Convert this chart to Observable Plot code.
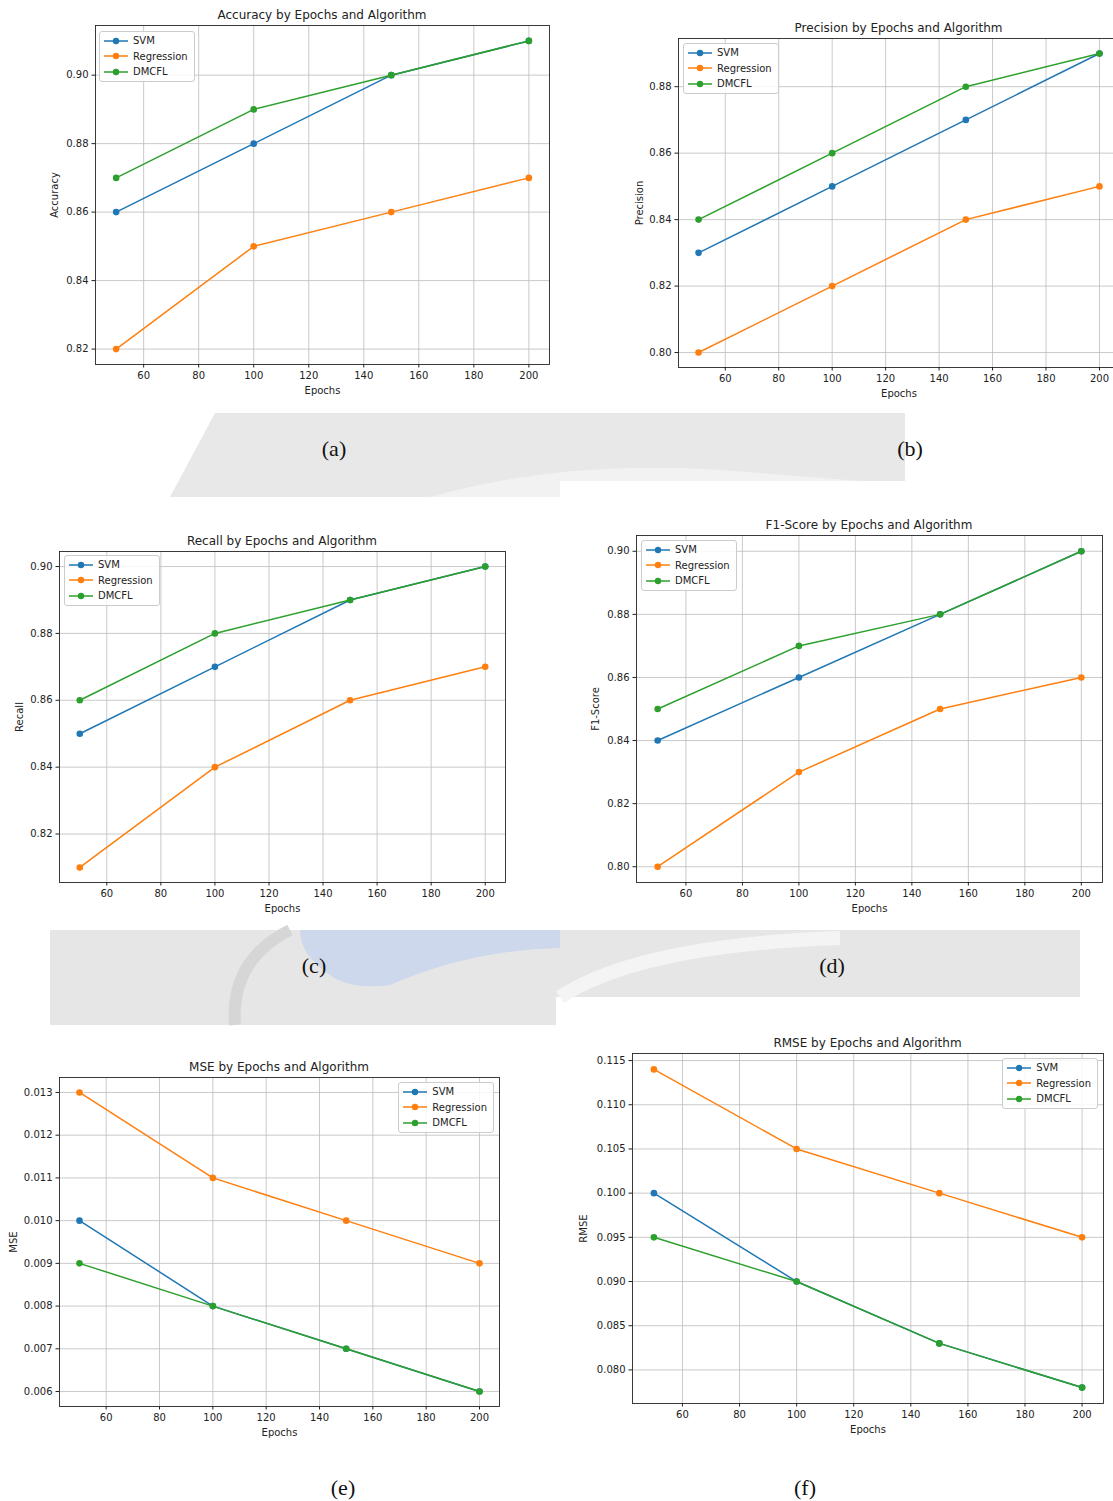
<!DOCTYPE html>
<html>
<head>
<meta charset="utf-8">
<script src="https://cdn.jsdelivr.net/npm/d3@7"></script>
<script src="https://cdn.jsdelivr.net/npm/@observablehq/plot@0.6"></script>
<style>
  html, body { margin: 0; padding: 0; background: #ffffff; }
  body { width: 1113px; height: 1501px; position: relative; overflow: hidden; font-family: "DejaVu Sans", sans-serif; color: #222; }
  #wm { position: absolute; left: 0; top: 0; }
  .chart { position: absolute; }
  .chart svg { overflow: visible; max-width: none !important; display: block; }
  .title { position: absolute; font-size: 12px; line-height: 14px; height: 14px; text-align: center; white-space: nowrap; color: #222; }
  .legend { position: absolute; border: 0.8px solid #cccccc; border-radius: 3px; background: rgba(255,255,255,0.85); font-size: 10px; padding: 1px 6px 1px 0; color: #222; }
  .legend .row { display: flex; align-items: center; height: 15.5px; }
  .legend svg { margin-left: 4px; margin-right: 5px; }
  .sub { position: absolute; font-family: "Liberation Serif", "Times New Roman", serif; font-size: 22px; line-height: 24px; transform: translate(-50%, -50%); color: #111; }
</style>
</head>
<body>
<svg id="wm" width="1113" height="1501">
  <polygon points="215,413 905,413 905,481 560,481 560,497 170,497" fill="#e8e8e8"/>
  <path d="M 430 497 Q 560 460 720 470 Q 800 476 860 481 L 560 481 L 560 497 Z" fill="#f2f2f2"/>
  <rect x="50" y="930" width="1030" height="67" fill="#e6e6e6"/>
  <rect x="50" y="997" width="506" height="28" fill="#e6e6e6"/>
  <path d="M 300 930 L 560 930 L 560 948 Q 470 950 390 985 Q 350 990 330 975 Q 300 955 300 930 Z" fill="#cdd8ec"/>
  <path d="M 560 997 Q 640 945 840 938" stroke="#f4f4f4" stroke-width="14" fill="none"/>
  <path d="M 235 1025 Q 230 960 290 930" stroke="#d6d6d6" stroke-width="12" fill="none"/>
</svg>
<script>
// ---------------- data ----------------
const epochs = [50, 100, 150, 200];
const algorithms = ["SVM", "Regression", "DMCFL"];
const colors = ["#1f77b4", "#ff7f0e", "#2ca02c"];
const xTicks = [60, 80, 100, 120, 140, 160, 180, 200];

const accuracySVM = [0.86, 0.88, 0.90, 0.91];
const accuracyRegression = [0.82, 0.85, 0.86, 0.87];
const accuracyDMCFL = [0.87, 0.89, 0.90, 0.91];
const accuracyTicks = [0.82, 0.84, 0.86, 0.88, 0.90];

const precisionSVM = [0.83, 0.85, 0.87, 0.89];
const precisionRegression = [0.80, 0.82, 0.84, 0.85];
const precisionDMCFL = [0.84, 0.86, 0.88, 0.89];
const precisionTicks = [0.80, 0.82, 0.84, 0.86, 0.88];

const recallSVM = [0.85, 0.87, 0.89, 0.90];
const recallRegression = [0.81, 0.84, 0.86, 0.87];
const recallDMCFL = [0.86, 0.88, 0.89, 0.90];
const recallTicks = [0.82, 0.84, 0.86, 0.88, 0.90];

const f1SVM = [0.84, 0.86, 0.88, 0.90];
const f1Regression = [0.80, 0.83, 0.85, 0.86];
const f1DMCFL = [0.85, 0.87, 0.88, 0.90];
const f1Ticks = [0.80, 0.82, 0.84, 0.86, 0.88, 0.90];

const mseSVM = [0.010, 0.008, 0.007, 0.006];
const mseRegression = [0.013, 0.011, 0.010, 0.009];
const mseDMCFL = [0.009, 0.008, 0.007, 0.006];
const mseTicks = [0.006, 0.007, 0.008, 0.009, 0.010, 0.011, 0.012, 0.013];

const rmseSVM = [0.100, 0.090, 0.083, 0.078];
const rmseRegression = [0.114, 0.105, 0.100, 0.095];
const rmseDMCFL = [0.095, 0.090, 0.083, 0.078];
const rmseTicks = [0.080, 0.085, 0.090, 0.095, 0.100, 0.105, 0.110, 0.115];

// ---------------- layout ----------------
const charts = [
  {title: "Accuracy by Epochs and Algorithm", ylabel: "Accuracy", series: [accuracySVM, accuracyRegression, accuracyDMCFL], yTicks: accuracyTicks, fmt: ".2f",
   frame: [95, 25, 454, 339], yOff: 45, legend: {left: 99, top: 31}, sub: "(a)", subPos: [334, 449]},
  {title: "Precision by Epochs and Algorithm", ylabel: "Precision", series: [precisionSVM, precisionRegression, precisionDMCFL], yTicks: precisionTicks, fmt: ".2f",
   frame: [678, 38, 441, 329], yOff: 43, legend: {left: 683, top: 43}, sub: "(b)", subPos: [910, 449]},
  {title: "Recall by Epochs and Algorithm", ylabel: "Recall", series: [recallSVM, recallRegression, recallDMCFL], yTicks: recallTicks, fmt: ".2f",
   frame: [59, 551, 446, 331], yOff: 44, legend: {left: 64, top: 555}, sub: "(c)", subPos: [314, 966]},
  {title: "F1-Score by Epochs and Algorithm", ylabel: "F1-Score", series: [f1SVM, f1Regression, f1DMCFL], yTicks: f1Ticks, fmt: ".2f",
   frame: [636, 535, 466, 347], yOff: 45, legend: {left: 641, top: 540}, sub: "(d)", subPos: [832, 966]},
  {title: "MSE by Epochs and Algorithm", ylabel: "MSE", series: [mseSVM, mseRegression, mseDMCFL], yTicks: mseTicks, fmt: ".3f",
   frame: [59, 1077, 440, 329], yOff: 50, legend: {right: 619, top: 1082}, sub: "(e)", subPos: [343, 1488]},
  {title: "RMSE by Epochs and Algorithm", ylabel: "RMSE", series: [rmseSVM, rmseRegression, rmseDMCFL], yTicks: rmseTicks, fmt: ".3f",
   frame: [632, 1053, 471, 350], yOff: 53, legend: {right: 15, top: 1058}, sub: "(f)", subPos: [805, 1488]}
];

const ML = 60, MR = 10, MT = 10, MB = 40;

function padded(ext) {
  const d = (ext[1] - ext[0]) * 0.05;
  return [ext[0] - d, ext[1] + d];
}

function swatch(color) {
  return `<svg width="24" height="8"><line x1="0" x2="24" y1="4" y2="4" stroke="${color}" stroke-width="1.5"/><circle cx="12" cy="4" r="3.2" fill="${color}"/></svg>`;
}

charts.forEach(cfg => {
  const [fl, ft, fw, fh] = cfg.frame;
  const allValues = cfg.series.flat();
  const gridStyle = {stroke: "#bdbdbd", strokeOpacity: 1, strokeWidth: 0.8};
  const marks = [
    Plot.gridX(xTicks, gridStyle),
    Plot.gridY(cfg.yTicks, gridStyle)
  ];
  cfg.series.forEach((vals, i) => {
    const rows = epochs.map((e, j) => ({epoch: e, value: vals[j], algorithm: algorithms[i]}));
    marks.push(Plot.line(rows, {x: "epoch", y: "value", stroke: colors[i], strokeWidth: 1.5}));
    marks.push(Plot.dot(rows, {x: "epoch", y: "value", fill: colors[i], stroke: "none", r: 3.3}));
  });
  marks.push(Plot.frame({stroke: "#262626", strokeWidth: 0.9}));
  marks.push(Plot.axisX(xTicks, {tickSize: 3.5, tickPadding: 3.5, label: "Epochs", labelAnchor: "center", labelArrow: "none", labelOffset: 29}));
  marks.push(Plot.axisY(cfg.yTicks, {tickSize: 3.5, tickPadding: 3.5, tickFormat: d3.format(cfg.fmt), label: cfg.ylabel, labelAnchor: "center", labelArrow: "none", labelOffset: cfg.yOff}));

  const W = ML + fw + MR, H = MT + fh + MB;
  const plot = Plot.plot({
    width: W,
    height: H,
    marginLeft: ML, marginRight: MR, marginTop: MT, marginBottom: MB,
    style: {fontFamily: "DejaVu Sans", fontSize: "10px", color: "#222", background: "transparent", overflow: "visible", maxWidth: "none"},
    x: {domain: padded(d3.extent(epochs))},
    y: {domain: padded(d3.extent(allValues))},
    marks
  });
  const holder = document.createElement("div");
  holder.className = "chart";
  holder.style.left = (fl - ML) + "px";
  holder.style.top = (ft - MT) + "px";
  holder.style.width = W + "px";
  holder.style.height = H + "px";
  holder.appendChild(plot);
  document.body.appendChild(holder);

  const t = document.createElement("div");
  t.className = "title";
  t.textContent = cfg.title;
  t.style.left = fl + "px";
  t.style.width = fw + "px";
  t.style.top = (ft - 17.5) + "px";
  document.body.appendChild(t);

  const lg = document.createElement("div");
  lg.className = "legend";
  lg.style.top = cfg.legend.top + "px";
  if (cfg.legend.left !== undefined) lg.style.left = cfg.legend.left + "px";
  else lg.style.right = cfg.legend.right + "px";
  lg.innerHTML = algorithms.map((a, i) => `<div class="row">${swatch(colors[i])}<span>${a}</span></div>`).join("");
  document.body.appendChild(lg);

  const s = document.createElement("div");
  s.className = "sub";
  s.textContent = cfg.sub;
  s.style.left = cfg.subPos[0] + "px";
  s.style.top = cfg.subPos[1] + "px";
  document.body.appendChild(s);
});
</script>
</body>
</html>
